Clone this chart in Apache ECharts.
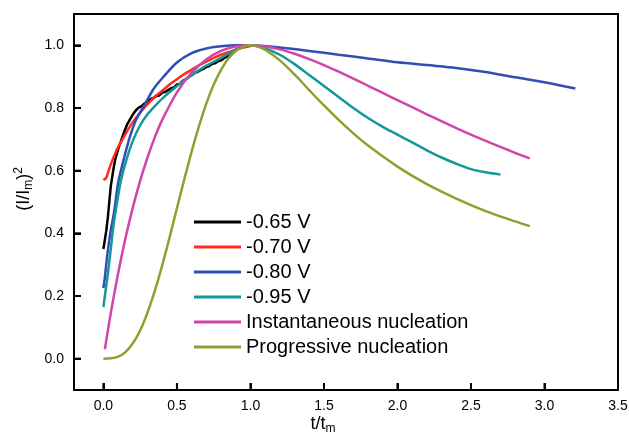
<!DOCTYPE html>
<html>
<head>
<meta charset="utf-8">
<script src="https://cdn.jsdelivr.net/npm/echarts@6/dist/echarts.min.js"></script>
<style>html,body{margin:0;padding:0;background:#fff;}#c{width:629px;height:432px;}</style>
</head>
<body>
<div id="c"></div>
<script>
const seriesNames = ['-0.65 V', '-0.70 V', '-0.80 V', '-0.95 V', 'Instantaneous nucleation', 'Progressive nucleation'];
const xRange = [-0.2, 3.5];
const yRange = [-0.1, 1.1];
const xTicks = [0, 0.5, 1.0, 1.5, 2.0, 2.5, 3.0];
const yTicks = [0, 0.2, 0.4, 0.6, 0.8, 1.0];
const frameRange = [0, 1];

const v065 = [[0,0.35],[0.01,0.38],[0.02,0.41],[0.03,0.45],[0.04,0.50],[0.05,0.55],[0.06,0.58],[0.07,0.61],[0.08,0.635],[0.1,0.668],[0.12,0.695],[0.14,0.722],[0.16,0.746],[0.18,0.763],[0.2,0.779],[0.22,0.792],[0.24,0.801],[0.26,0.806],[0.28,0.815],[0.3,0.82],[0.32,0.828],[0.34,0.832],[0.36,0.838],[0.38,0.84],[0.4,0.849],[0.42,0.851],[0.44,0.857],[0.46,0.863],[0.48,0.866],[0.5,0.875],[0.52,0.877],[0.54,0.887],[0.56,0.891],[0.58,0.899],[0.6,0.905],[0.62,0.911],[0.64,0.915],[0.66,0.921],[0.68,0.925],[0.7,0.931],[0.72,0.934],[0.74,0.941],[0.76,0.943],[0.78,0.949],[0.8,0.952],[0.82,0.959],[0.84,0.964],[0.86,0.973],[0.88,0.979],[0.9,0.986],[0.92,0.99],[0.95,0.995]];
const v070 = [[0,0.575],[0.01,0.572],[0.02,0.578],[0.03,0.592],[0.05,0.62],[0.08,0.655],[0.1,0.675],[0.13,0.70],[0.16,0.725],[0.2,0.755],[0.25,0.785],[0.3,0.812],[0.35,0.836],[0.4,0.855],[0.45,0.875],[0.5,0.892],[0.55,0.908],[0.6,0.922],[0.65,0.936],[0.7,0.948],[0.75,0.96],[0.8,0.97],[0.85,0.978],[0.9,0.986],[0.95,0.993],[1.0,0.998]];
const v080 = [[0,0.225],[0.01,0.26],[0.03,0.345],[0.05,0.41],[0.07,0.46],[0.1,0.56],[0.135,0.63],[0.175,0.70],[0.22,0.76],[0.28,0.81],[0.34,0.86],[0.4,0.895],[0.5,0.945],[0.6,0.975],[0.7,0.99],[0.8,0.997],[0.9,1.0],[1.0,1.0],[1.2,0.993],[1.4,0.982],[1.6,0.97],[1.8,0.958],[2.0,0.946],[2.2,0.937],[2.4,0.928],[2.6,0.915],[2.8,0.898],[3.0,0.882],[3.21,0.862]];
const v095 = [[0,0.165],[0.01,0.2],[0.02,0.235],[0.03,0.27],[0.05,0.35],[0.07,0.43],[0.09,0.49],[0.12,0.57],[0.16,0.64],[0.2,0.695],[0.25,0.745],[0.3,0.78],[0.35,0.806],[0.4,0.83],[0.5,0.87],[0.6,0.905],[0.7,0.935],[0.8,0.96],[0.9,0.985],[1.0,1.0],[1.1,0.99],[1.2,0.97],[1.3,0.94],[1.4,0.905],[1.5,0.87],[1.6,0.835],[1.7,0.8],[1.8,0.768],[1.9,0.74],[2.0,0.715],[2.1,0.69],[2.2,0.665],[2.3,0.642],[2.4,0.622],[2.5,0.605],[2.6,0.595],[2.7,0.588]];
const instNuc = [[0.01,0.03],[0.05,0.145],[0.1,0.272],[0.15,0.384],[0.2,0.482],[0.25,0.568],[0.3,0.642],[0.35,0.707],[0.4,0.762],[0.5,0.85],[0.6,0.913],[0.7,0.955],[0.8,0.982],[0.9,0.996],[1.0,1.0],[1.1,0.996],[1.2,0.987],[1.3,0.973],[1.4,0.956],[1.5,0.937],[1.6,0.916],[1.7,0.894],[1.8,0.871],[1.9,0.848],[2.0,0.825],[2.2,0.78],[2.4,0.736],[2.6,0.695],[2.8,0.657],[2.9,0.639]];
const progNuc = [[0,0],[0.05,0.001],[0.1,0.0065],[0.15,0.021],[0.2,0.049],[0.25,0.09],[0.3,0.147],[0.35,0.217],[0.4,0.298],[0.45,0.387],[0.5,0.48],[0.55,0.572],[0.6,0.661],[0.65,0.742],[0.7,0.814],[0.75,0.874],[0.8,0.922],[0.85,0.958],[0.9,0.982],[0.95,0.996],[1.0,1.0],[1.05,0.996],[1.1,0.986],[1.2,0.952],[1.3,0.907],[1.4,0.857],[1.5,0.808],[1.6,0.762],[1.7,0.719],[1.8,0.68],[2.0,0.613],[2.2,0.557],[2.4,0.511],[2.6,0.471],[2.8,0.438],[2.9,0.423]];

const seriesData = [v065, v070, v080, v095, instNuc, progNuc];
const colors = ['#000000', '#ff2b1f', '#2f4fb5', '#129898', '#d045a8', '#949e30'];

const FONT = 'Liberation Sans, Arial, sans-serif';
const TICK_LEN = 7;
const frameAxis = {
  type: 'value', min: frameRange[0], max: frameRange[1],
  axisLine: { show: true, onZero: false, lineStyle: { color: '#000', width: 2 } },
  axisTick: { show: false }, axisLabel: { show: false }, splitLine: { show: false }
};

// inward tick marks drawn through the library's own coordinate system
function tickSeries(values, horizontal) {
  return {
    type: 'custom', silent: true, clip: false, xAxisIndex: 0, yAxisIndex: 0, z: 5,
    data: values.map(v => horizontal ? [v, yRange[0]] : [xRange[0], v]),
    renderItem: (params, api) => {
      const p = api.coord([api.value(0), api.value(1)]);
      const shape = horizontal
        ? { x1: p[0], y1: p[1], x2: p[0], y2: p[1] - TICK_LEN }
        : { x1: p[0], y1: p[1], x2: p[0] + TICK_LEN, y2: p[1] };
      return { type: 'line', shape: shape, style: { stroke: '#000', lineWidth: 2 } };
    }
  };
}

const chart = echarts.init(document.getElementById('c'));
chart.setOption({
  animation: false,
  backgroundColor: '#fff',
  grid: { left: 74, right: 11, top: 14, bottom: 42, outerBoundsMode: 'none', containLabel: false, show: false },
  legend: {
    orient: 'vertical', left: 189, top: 207,
    icon: 'rect', itemWidth: 47, itemHeight: 3, itemGap: 5,
    textStyle: { fontFamily: FONT, fontSize: 20, lineHeight: 20, color: '#000' },
    data: seriesNames
  },
  xAxis: [{
    type: 'value', position: 'bottom', min: xRange[0], max: xRange[1], splitNumber: 7,
    axisLine: { show: true, onZero: true, onZeroAxisIndex: 1, lineStyle: { color: '#000', width: 2 } },
    axisTick: { show: true, inside: true, length: TICK_LEN, lineStyle: { color: '#000', width: 2 } },
    axisLabel: { showMinLabel: false, formatter: v => v.toFixed(1), fontFamily: FONT, fontSize: 14, color: '#000', margin: 9 },
    splitLine: { show: false },
    name: '{a|t/t}{s|m}', nameLocation: 'middle', nameGap: 24, nameMoveOverlap: false,
    nameTextStyle: { padding: [0, 46, 0, 0], rich: { a: { fontFamily: FONT, fontSize: 18, color: '#000' }, s: { fontFamily: FONT, fontSize: 12, color: '#000', padding: [9, 0, 0, 0] } } }
  }, Object.assign({ position: 'top' }, frameAxis)],
  yAxis: [{
    type: 'value', position: 'left', min: yRange[0], max: yRange[1], splitNumber: 6,
    axisLine: { show: true, onZero: true, onZeroAxisIndex: 1, lineStyle: { color: '#000', width: 2 } },
    axisTick: { show: true, inside: true, length: TICK_LEN, lineStyle: { color: '#000', width: 2 } },
    axisLabel: { showMinLabel: false, showMaxLabel: false, formatter: v => v.toFixed(1), fontFamily: FONT, fontSize: 14, color: '#000', margin: 10 },
    splitLine: { show: false },
    name: '{a|(I/I}{s|m}{a|)}{p|2}', nameLocation: 'middle', nameGap: 38, nameMoveOverlap: false,
    nameTextStyle: { padding: [0, 0, 0, 26], rich: {
      a: { fontFamily: FONT, fontSize: 18, color: '#000' },
      s: { fontFamily: FONT, fontSize: 12, color: '#000', padding: [9, 0, 0, 0] },
      p: { fontFamily: FONT, fontSize: 12, color: '#000', padding: [0, 0, 11, 0] }
    } }
  }, Object.assign({ position: 'right' }, frameAxis)],
  series: seriesData.map((d, i) => ({
    name: seriesNames[i], type: 'line', data: d, showSymbol: false, symbol: 'none',
    xAxisIndex: 0, yAxisIndex: 0,
    smooth: i === 0 ? false : 0.3,
    lineStyle: { color: colors[i], width: 2.5 }, itemStyle: { color: colors[i] }
  })).concat([tickSeries(xTicks, true), tickSeries(yTicks, false)])
});
</script>
</body>
</html>
